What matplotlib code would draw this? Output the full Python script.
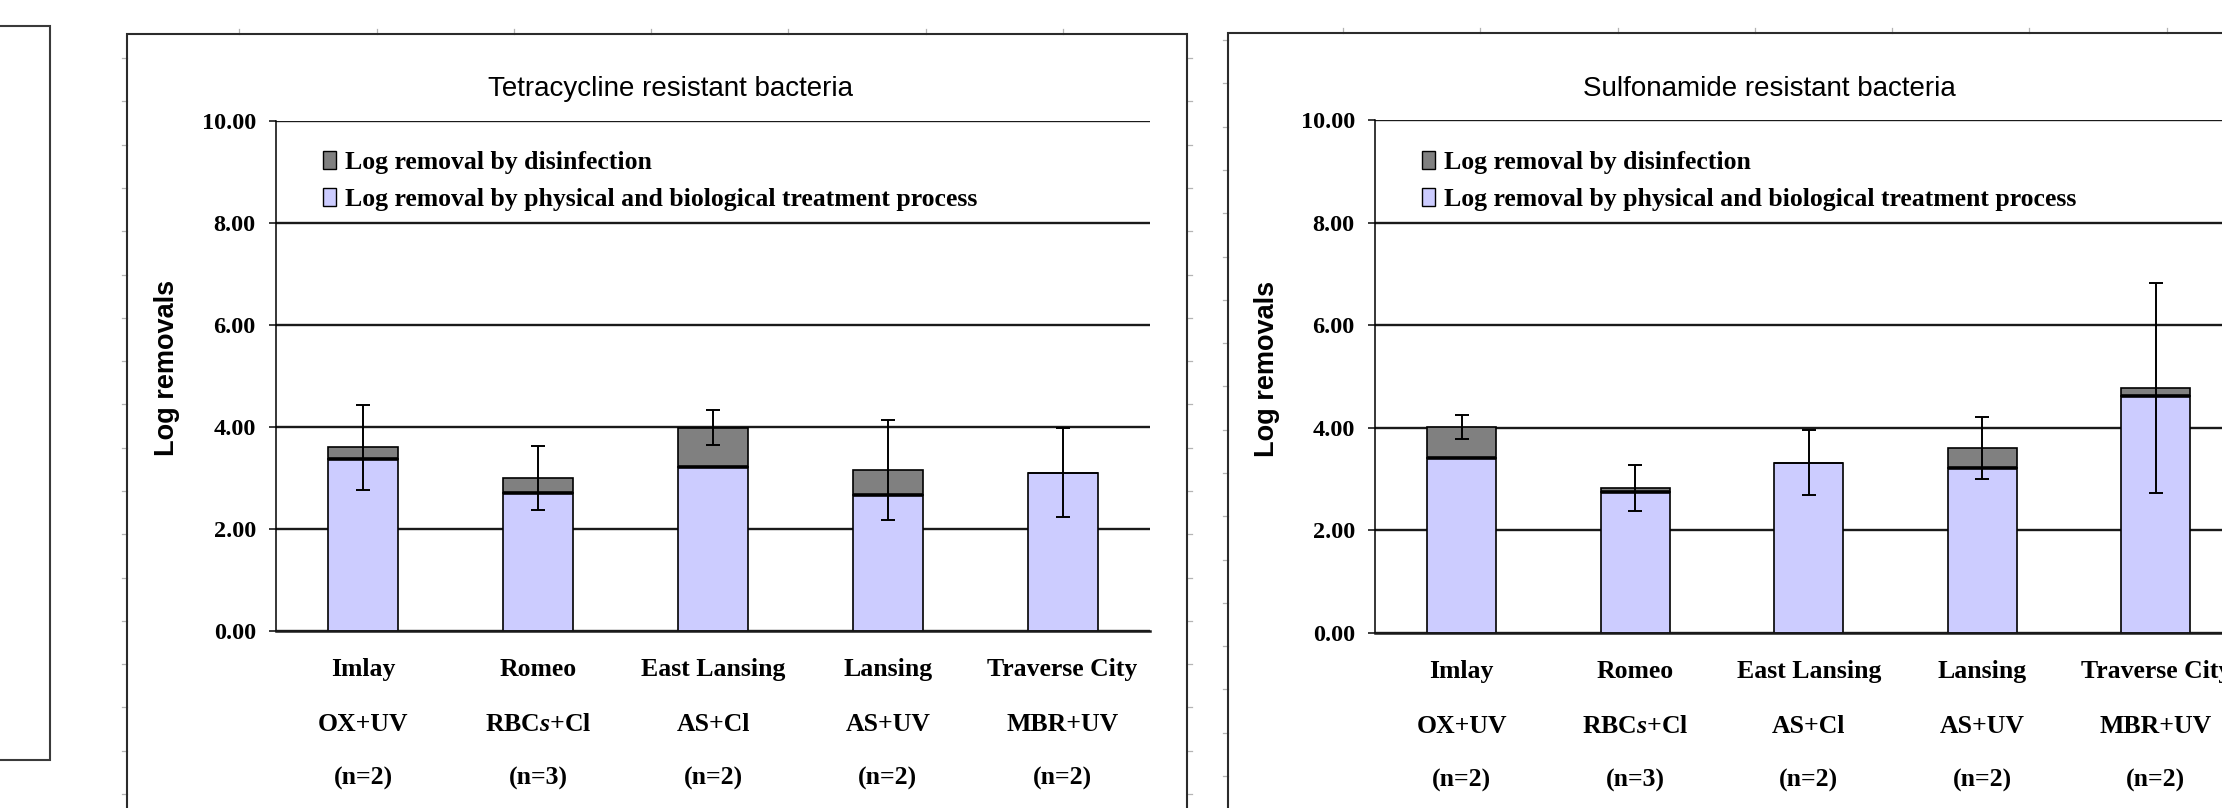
import numpy as np
import matplotlib
matplotlib.use("Agg")
import matplotlib.pyplot as plt
from matplotlib.patches import Rectangle, Patch
from matplotlib.lines import Line2D
from matplotlib.ticker import FormatStrFormatter

plt.rcParams['font.family'] = ['Liberation Serif', 'DejaVu Serif']
plt.rcParams['font.weight'] = 'bold'
plt.rcParams['mathtext.fontset'] = 'custom'
plt.rcParams['mathtext.rm'] = 'Liberation Serif:bold'
plt.rcParams['mathtext.it'] = 'Liberation Serif:bold:italic'

# plant info shown under each bar
sites = ["Imlay", "Romeo", "East Lansing", "Lansing", "Traverse City"]
processes = ["OX+UV", r"RBC$\mathit{s}$+Cl", "AS+Cl", "AS+UV", "MBR+UV"]
n_samples = ["(n=2)", "(n=3)", "(n=2)", "(n=2)", "(n=2)"]

legend_labels = ["Log removal by disinfection",
                 "Log removal by physical and biological treatment process"]

# tetracycline resistant bacteria (log removals)
tet_physical = [3.36, 2.70, 3.21, 2.66, 3.10]
tet_disinfection = [0.24, 0.30, 0.77, 0.49, 0.00]
tet_error = [0.83, 0.63, 0.34, 0.98, 0.87]

# sulfonamide resistant bacteria (log removals)
sul_physical = [3.42, 2.74, 3.32, 3.22, 4.62]
sul_disinfection = [0.59, 0.09, 0.00, 0.39, 0.16]
sul_error = [0.23, 0.45, 0.63, 0.60, 2.05]

PHYS_COLOR = '#CCCCFF'
DIS_COLOR = '#808080'
SANS = ['Liberation Sans', 'DejaVu Sans']
NARROW = ['Liberation Sans Narrow', 'Liberation Sans', 'DejaVu Sans']

W, H = 2222, 808
fig = plt.figure(figsize=(W / 100, H / 100), dpi=100)
fig.patch.set_facecolor('white')


def px_axes(x0, y_top, x1, y_bot):
    return fig.add_axes([x0 / W, 1 - y_bot / H, (x1 - x0) / W, (y_bot - y_top) / H])


def chart_frame(x0, y_top, x1, left_ticks_y0, top_tick_x0):
    fig.add_artist(Rectangle((x0 / W, -0.1), (x1 - x0) / W, 1 - y_top / H + 0.1,
                             transform=fig.transFigure, fill=False,
                             ec='#2b2b2b', lw=1.5, zorder=5))
    tc = '#b4b4b4'
    y = left_ticks_y0
    while y < H:
        for xe, d in ((x0, -5), (x1, 5)):
            fig.add_artist(Line2D([xe / W, (xe + d) / W], [1 - y / H] * 2,
                                  transform=fig.transFigure, color=tc, lw=0.9))
        y += 43.3
    x = top_tick_x0
    while x > x0 + 5:
        x -= 137.3
    x += 137.3
    while x < min(x1, W):
        fig.add_artist(Line2D([x / W] * 2, [1 - y_top / H, 1 - (y_top - 5) / H],
                              transform=fig.transFigure, color=tc, lw=0.9))
        x += 137.3


def draw_panel(ax, title, title_x, physical, disinfection, error):
    x = np.arange(len(sites))
    width = 0.40
    physical = np.array(physical)
    disinfection = np.array(disinfection)
    total = physical + disinfection

    ax.bar(x, physical, width, color=PHYS_COLOR, edgecolor='black', linewidth=1.2, zorder=2)
    ax.bar(x, disinfection, width, bottom=physical, color=DIS_COLOR,
           edgecolor='black', linewidth=1.2, zorder=2)
    has_dis = disinfection > 0
    ax.hlines(physical[has_dis], x[has_dis] - width / 2, x[has_dis] + width / 2,
              color='black', linewidth=2.6, zorder=3)
    ax.errorbar(x, total, yerr=error, fmt='none', ecolor='black',
                elinewidth=1.4, capsize=5, capthick=1.4, zorder=4)

    ax.set_xlim(-0.5, len(sites) - 0.5)
    ax.set_ylim(0, 10)
    ax.set_yticks(np.arange(0, 10.1, 2))
    ax.yaxis.set_major_formatter(FormatStrFormatter('%.2f'))
    ax.tick_params(axis='y', direction='out', length=5, width=1.2, pad=9.5,
                   labelsize=17.5, color='#1a1a1a')
    ax.tick_params(axis='x', bottom=False, labelbottom=False)
    ax.yaxis.grid(True, color='#1a1a1a', linewidth=1.7)
    ax.set_axisbelow(True)
    for s in ('top', 'right'):
        ax.spines[s].set_visible(False)
    ax.spines['left'].set_linewidth(1.1)
    ax.spines['bottom'].set_linewidth(1.8)
    ax.spines['bottom'].set_color('#1a1a1a')
    ax.set_facecolor('none')

    for i in x:
        for row, off in zip((sites, processes, n_samples), (28.0, 67.0, 106.5)):
            ax.annotate(row[i], xy=(i, 0), xycoords=('data', 'axes fraction'),
                        xytext=(0, -off), textcoords='offset points',
                        ha='center', va='center', fontsize=18.5,
                        annotation_clip=False)

    handles = [Patch(fc=DIS_COLOR, ec='black', lw=1.0),
               Patch(fc=PHYS_COLOR, ec='black', lw=1.0)]
    ax.legend(handles, legend_labels, loc='upper left', bbox_to_anchor=(0.054, 0.94),
              frameon=False, borderpad=0, borderaxespad=0, handlelength=0.5,
              handleheight=0.7, handletextpad=0.35, labelspacing=0.55, fontsize=18.5)

    ax.text(-0.125, 0.515, "Log removals", rotation=90, transform=ax.transAxes,
            ha='center', va='center', family=SANS, weight='bold', fontsize=19.5)
    fig.text(title_x / W, 1 - 89 / H, title, ha='center', va='center',
             family=NARROW, weight='normal', fontsize=20)


# small box left of the charts
fig.add_artist(Rectangle((-20 / W, 1 - 760 / H), 70 / W, (760 - 26) / H,
                         transform=fig.transFigure, fill=False, ec='#3a3a3a', lw=1.5))

chart_frame(127, 34, 1187, 58, 1063)
chart_frame(1228, 33, 2288, 40, 1343)

ax1 = px_axes(276, 120.5, 1150, 631)
draw_panel(ax1, "Tetracycline resistant bacteria", 670,
           tet_physical, tet_disinfection, tet_error)

ax2 = px_axes(1375, 120, 2242.5, 633)
draw_panel(ax2, "Sulfonamide resistant bacteria", 1769,
           sul_physical, sul_disinfection, sul_error)

fig.savefig("out.png", dpi=100, facecolor='white')
